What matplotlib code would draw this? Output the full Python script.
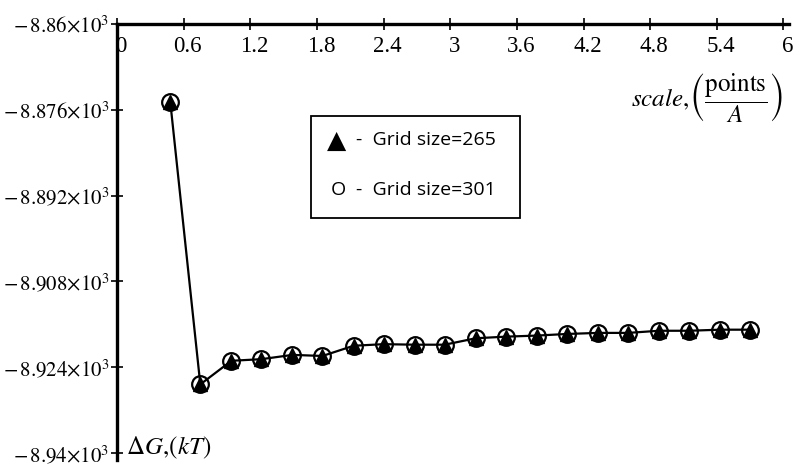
import matplotlib
matplotlib.use("Agg")
import matplotlib.pyplot as plt
from matplotlib.patches import Rectangle

# data
scale = [0.48, 0.75, 1.03, 1.30, 1.58, 1.85, 2.13, 2.40, 2.68, 2.95,
         3.23, 3.50, 3.78, 4.05, 4.33, 4.60, 4.88, 5.15, 5.43, 5.70]
dg_265 = [-8874.6, -8927.2, -8922.8, -8922.5, -8921.7, -8921.9, -8920.0, -8919.7, -8919.8, -8919.8,
          -8918.6, -8918.3, -8918.1, -8917.8, -8917.6, -8917.6, -8917.2, -8917.2, -8917.0, -8917.0]
dg_301 = [-8874.6, -8927.2, -8922.8, -8922.5, -8921.7, -8921.9, -8920.0, -8919.7, -8919.8, -8919.8,
          -8918.6, -8918.3, -8918.1, -8917.8, -8917.6, -8917.6, -8917.2, -8917.2, -8917.0, -8917.0]

x_ticks = [0, 0.6, 1.2, 1.8, 2.4, 3, 3.6, 4.2, 4.8, 5.4, 6]
x_tick_labels = ["0", "0.6", "1.2", "1.8", "2.4", "3", "3.6", "4.2", "4.8", "5.4", "6"]
y_ticks = [-8860, -8876, -8892, -8908, -8924, -8940]
y_tick_labels = [r"$-\,8.86{\times}10^{3}$", r"$-\,8.876{\times}10^{3}$", r"$-\,8.892{\times}10^{3}$",
                 r"$-\,8.908{\times}10^{3}$", r"$-\,8.924{\times}10^{3}$", r"$-\,8.94{\times}10^{3}$"]
legend_symbols = ["\u25B2", "O"]
legend_labels = ["-  Grid size=265", "-  Grid size=301"]

plt.rcParams["mathtext.fontset"] = "stix"
plt.rcParams["font.family"] = ["Liberation Serif", "DejaVu Serif"]

fig = plt.figure(figsize=(8, 4.71), dpi=100)
# axes box: x=0 at px 117, x=6 at px 783; y=-8860 at px 24, y=-8940 at px 453
ax = fig.add_axes([117 / 800, 1 - 460 / 471, 672 / 800, 436 / 471])
ax.set_xlim(0, 6.05)
ax.set_ylim(-8941.3, -8860)

ax.plot(scale, dg_265, color="black", lw=1.6, marker="^", ms=10, mfc="black", mec="black", zorder=3)
ax.plot(scale, dg_301, color="none", marker="o", ms=12, mfc="none", mec="black", mew=1.6, zorder=4)

# Maple-like axes: y axis at x=0, x axis along the top
for side in ["right", "bottom"]:
    ax.spines[side].set_visible(False)
ax.spines["left"].set_linewidth(2.4)
ax.spines["top"].set_linewidth(2.4)

ax.xaxis.tick_top()
ax.set_xticks(x_ticks)
ax.set_xticklabels([])
ax.tick_params(axis="x", direction="inout", length=9, width=1.2)
for xv, lab in zip(x_ticks, x_tick_labels):
    ax.annotate(lab, (xv, -8860), xytext=(4, -12), textcoords="offset pixels",
                ha="center", va="top", fontsize=16.5)

ax.set_yticks(y_ticks)
ax.set_yticklabels(y_tick_labels, fontsize=15)
ax.tick_params(axis="y", direction="inout", length=9, width=1.2, pad=1)

fig.text(783 / 800, 1 - 97 / 471, r"$\mathit{scale},\!\left(\dfrac{\mathrm{points}}{A}\right)$",
         ha="right", va="center", fontsize=18)
fig.text(126 / 800, 1 - 454 / 471, r"$\Delta G,\!\left(kT\right)$",
         ha="left", va="baseline", fontsize=18)

# legend box drawn by hand, like the reference
box = Rectangle((311, 471 - 218), 209, 102, transform=None, fill=False, ec="black", lw=1.3)
fig.patches.append(box)
fig.text(327 / 800, 1 - 141 / 471, legend_symbols[0], ha="left", va="center", fontsize=18,
         family=["DejaVu Sans"])
fig.text(331 / 800, 1 - 190 / 471, legend_symbols[1], ha="left", va="center", fontsize=14,
         family=["Open Sans", "DejaVu Sans"])
fig.text(356 / 800, 1 - 140 / 471, legend_labels[0], ha="left", va="center", fontsize=14,
         family=["Open Sans", "DejaVu Sans"])
fig.text(356 / 800, 1 - 190 / 471, legend_labels[1], ha="left", va="center", fontsize=14,
         family=["Open Sans", "DejaVu Sans"])

fig.savefig("out.png", dpi=100)
